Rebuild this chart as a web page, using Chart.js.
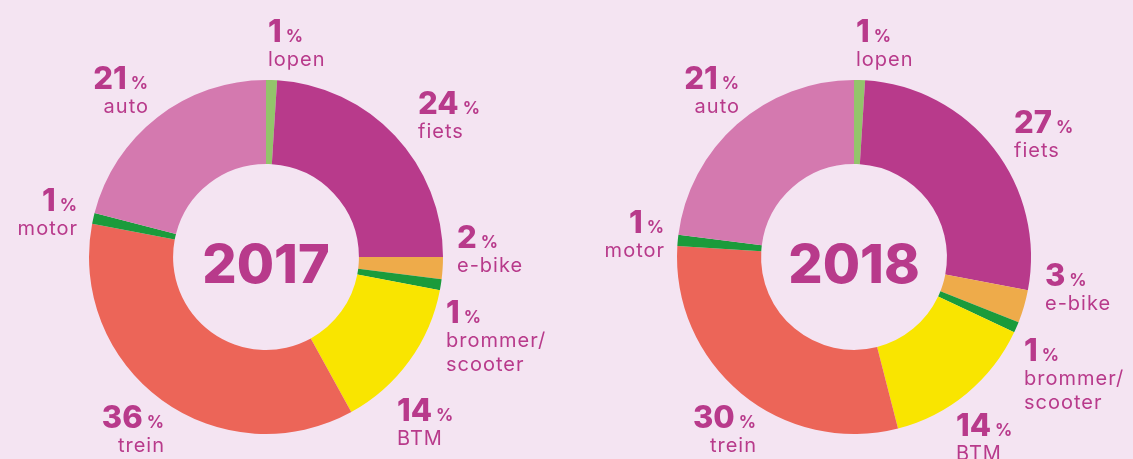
<!DOCTYPE html>
<html><head><meta charset="utf-8">
<script src="https://cdn.jsdelivr.net/npm/chart.js@4.4.1/dist/chart.umd.min.js"></script>
<style>
html,body{margin:0;padding:0;background:#f4e4f2;width:1133px;height:459px;overflow:hidden}
#c1{position:absolute;left:0;top:0}
#c2{position:absolute;left:560px;top:0}
</style></head><body>
<canvas id="c1" width="560" height="459"></canvas>
<canvas id="c2" width="573" height="459"></canvas>
<script>
// ---- data ----
const categories = ['lopen', 'fiets', 'e-bike', 'brommer/\nscooter', 'BTM', 'trein', 'motor', 'auto'];
const years = ['2017', '2018'];
// slice shares as drawn in the picture
const share2017 = [1, 24, 2, 1, 14, 36, 1, 21];
const share2018 = [1, 27, 3, 1, 14, 30, 1, 23];
// percentages printed next to the slices
const printed2017 = [1, 24, 2, 1, 14, 36, 1, 21];
const printed2018 = [1, 27, 3, 1, 14, 30, 1, 21];

// ---- styles ----
const sliceColors = ['#93c46b', '#b83a8b', '#eeab4a', '#1a9b3b', '#f9e500', '#ec6558', '#1a9b3b', '#d479af'];
const textColor = '#b83a8b';

// label placement relative to the doughnut centre: [dx, dy of number baseline, align]
const layout2017 = [[2,-215,'left'],[152,-143,'left'],[191,-9,'left'],[180,66,'left'],[131,164,'left'],[-102,171,'right'],[-189,-46,'right'],[-118,-168,'right']];
const layout2018 = [[2,-215,'left'],[160,-124,'left'],[191,29,'left'],[170,104,'left'],[102,179,'left'],[-98,171,'right'],[-190,-24,'right'],[-115,-168,'right']];

const labelPlugin = {
  id: 'sliceLabels',
  afterDraw(chart, args, opts) {
    const ctx = chart.ctx;
    const meta = chart.getDatasetMeta(0);
    const arc0 = meta.data[0];
    const cx = arc0.x, cy = arc0.y;
    ctx.save();
    ctx.fillStyle = textColor;
    // centre year
    ctx.font = '800 54px Inter, Roboto, sans-serif';
    ctx.textAlign = 'center';
    ctx.textBaseline = 'alphabetic';
    ctx.fillText(opts.year, cx, cy + 26);
    // slice labels
    opts.printed.forEach((v, i) => {
      const [dx, dy, align] = opts.layout[i];
      const numFont = '800 31px Inter, Roboto, sans-serif';
      const pctFont = '700 17px Inter, Roboto, sans-serif';
      const txtFont = '400 20px Inter, Roboto, sans-serif';
      ctx.letterSpacing = '0px';
      ctx.font = numFont; const nw = ctx.measureText(String(v)).width;
      ctx.font = pctFont; const pw = ctx.measureText('%').width;
      const gap = 4;
      const total = nw + gap + pw;
      const bx = cx + dx, by = cy + dy;
      const startX = align === 'left' ? bx : bx - total;
      ctx.textAlign = 'left';
      ctx.font = numFont; ctx.fillText(String(v), startX, by);
      ctx.font = pctFont; ctx.fillText('%', startX + nw + gap, by);
      ctx.font = txtFont;
      ctx.letterSpacing = '1px';
      const lines = chart.data.labels[i].split('\n');
      lines.forEach((ln, k) => {
        const w = ctx.measureText(ln).width - 1;
        const x = align === 'left' ? bx : bx - w;
        ctx.fillText(ln, x, by + 24 + 24 * k);
      });
    });
    ctx.restore();
  }
};

function makeChart(id, shares, printed, layout, year, padL, padR) {
  return new Chart(document.getElementById(id), {
    type: 'doughnut',
    data: {
      labels: categories,
      datasets: [{ data: shares, backgroundColor: sliceColors, borderWidth: 0, hoverOffset: 0 }]
    },
    options: {
      responsive: false,
      maintainAspectRatio: false,
      devicePixelRatio: 1,
      animation: false,
      events: [],
      cutout: '52.5%',
      rotation: 0,
      layout: { padding: { top: 80, bottom: 25, left: padL, right: padR } },
      plugins: {
        legend: { display: false },
        tooltip: { enabled: false },
        sliceLabels: { printed: printed, layout: layout, year: year }
      }
    },
    plugins: [labelPlugin]
  });
}

makeChart('c1', share2017, printed2017, layout2017, years[0], 0, 28);
makeChart('c2', share2018, printed2018, layout2018, years[1], 15, 0);
</script>
</body></html>
